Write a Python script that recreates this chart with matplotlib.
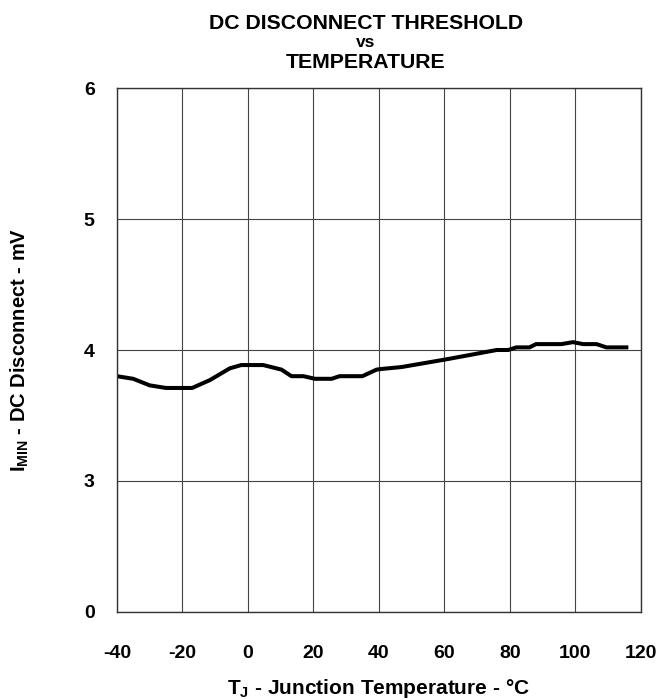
import matplotlib
matplotlib.use('Agg')
import matplotlib.pyplot as plt

plt.rcParams['font.family'] = ['Liberation Sans', 'DejaVu Sans']
plt.rcParams['font.weight'] = 'bold'
plt.rcParams['axes.unicode_minus'] = False
plt.rcParams['mathtext.fontset'] = 'custom'
plt.rcParams['mathtext.bf'] = 'Liberation Sans:bold'
plt.rcParams['mathtext.rm'] = 'Liberation Sans:bold'

# junction temperature (C) and DC disconnect threshold (mV)
temp = [-40, -35, -30, -25, -17, -11.6, -5.5, -2, 4.7, 10.3, 13.3, 17, 20.5,
        25.6, 28, 35, 39.3, 40.8, 47, 60.9, 76, 79.5, 82, 86, 88, 95.8, 99.3,
        102.4, 106.5, 109.5, 115.6]
imin = [3.80, 3.78, 3.73, 3.71, 3.71, 3.77, 3.86, 3.885, 3.885, 3.85, 3.80,
        3.80, 3.78, 3.78, 3.80, 3.80, 3.85, 3.855, 3.87, 3.93, 4.00, 4.00,
        4.02, 4.02, 4.045, 4.045, 4.06, 4.045, 4.045, 4.02, 4.02]

xticks = [-40, -20, 0, 20, 40, 60, 80, 100, 120]
# broken y axis: bottom gridline stands for 0
ytick_pos = [2, 3, 4, 5, 6]
ytick_labels = ['0', '3', '4', '5', '6']

fig = plt.figure(figsize=(6.64, 7), dpi=100)
ax = fig.add_axes([0.176, 0.126, 0.789, 0.748])

ax.plot(temp, imin, color='black', linewidth=2.9, solid_joinstyle='round')

ax.set_xlim(-40, 120)
ax.set_ylim(2, 6)
ax.set_xticks(xticks)
ax.set_yticks(ytick_pos)
ax.set_yticklabels(ytick_labels)
ax.tick_params(length=0, labelsize=14)
ax.tick_params(axis='y', pad=16)
ax.tick_params(axis='x', pad=24)
ax.grid(True, color='#444444', linewidth=0.8)
for s in ax.spines.values():
    s.set_color('#333333')
    s.set_linewidth(1.0)

ax.set_xlabel(r'T$_\mathbf{J}$ - Junction Temperature - °C', fontsize=15,
              fontweight='bold', labelpad=11)
ax.set_ylabel(r'I$_\mathbf{MIN}$ - DC Disconnect - mV', fontsize=14.5,
              fontweight='bold', labelpad=38)

fig.text(0.551, 0.967, 'DC DISCONNECT THRESHOLD', ha='center', va='center', fontsize=15.3)
fig.text(0.551, 0.939, 'vs', ha='center', va='center', fontsize=12.5)
fig.text(0.551, 0.911, 'TEMPERATURE', ha='center', va='center', fontsize=15.3)

fig.savefig('out.png', dpi=100)
